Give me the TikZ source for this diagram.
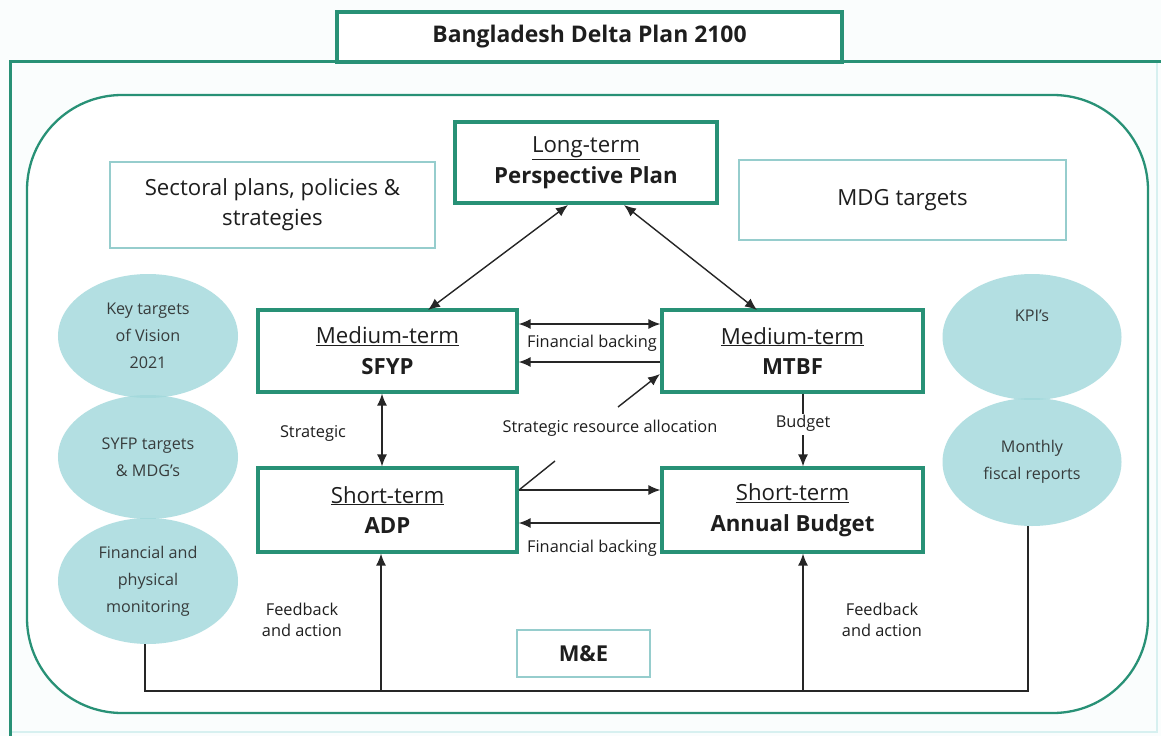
\documentclass[tikz,border=0pt]{standalone}
\usepackage{fontspec}
\setmainfont{Open Sans}
\usetikzlibrary{arrows.meta,shapes.geometric}
\definecolor{frame}{RGB}{40,145,118}
\definecolor{thinbd}{RGB}{150,205,205}
\definecolor{ellfill}{RGB}{161,216,219}
\definecolor{txt}{RGB}{30,30,30}
\definecolor{soft}{RGB}{55,60,60}
\definecolor{bgc}{RGB}{250,253,253}
\definecolor{faint}{RGB}{215,240,240}
\begin{document}
\begin{tikzpicture}[x=1bp,y=-1bp,
  bigbox/.style={draw=frame, line width=3.2bp, fill=white, align=center, text=txt, inner sep=0pt,
    font=\fontsize{22.3}{31}\selectfont},
  thinbox/.style={draw=thinbd, line width=1.3bp, fill=white, align=center, text=txt, inner sep=0pt,
    font=\fontsize{22.3}{30}\selectfont},
  oval/.style={ellipse, fill=ellfill, fill opacity=0.8, text opacity=1, align=center, text=soft,
    inner sep=0pt, minimum width=180bp, font=\fontsize{16.2}{27}\selectfont},
  ovaltext/.style={text=soft, inner sep=0pt, font=\fontsize{16.2}{27}\selectfont},
  arr/.style={draw=black!85, line width=1.4bp, -{Latex[length=12bp,width=10bp]}},
  darr/.style={draw=black!85, line width=1.4bp, {Latex[length=12bp,width=10bp]}-{Latex[length=12bp,width=10bp]}},
  plain/.style={draw=black!85, line width=1.4bp},
  lbl/.style={text=txt, font=\fontsize{16.4}{21}\selectfont, align=center, inner sep=1bp}
]
% canvas
\fill[bgc] (0,0) rectangle (1161,736);
\useasboundingbox (0,0) rectangle (1161,736);

% outer frame and title tab
\draw[faint, line width=1.5bp] (1157,62) -- (1157,732) -- (10,732);
\draw[frame, line width=3bp] (1161,62) -- (10,62) -- (10,736);
\node[bigbox, minimum width=505bp, minimum height=50bp, font=\fontsize{23}{26}\bfseries] (title) at (589.5,37) {Bangladesh Delta Plan 2100};

% inner rounded frame
\draw[frame, line width=2.3bp, rounded corners=95bp, fill=white] (27,95) rectangle (1148,713);

% context boxes
\node[thinbox, minimum width=325bp, minimum height=86bp] (sect) at (272.5,205) {Sectoral plans, policies \&\\strategies};
\node[thinbox, minimum width=327bp, minimum height=80bp] (mdg) at (902.5,200) {MDG targets};
\node[thinbox, minimum width=133bp, minimum height=47bp, font=\fontsize{22}{24}\bfseries] (me) at (583.5,653.5) {M\&E};

% planning boxes
\node[bigbox, minimum width=262bp, minimum height=81bp] (pp) at (586,162.5) {\underline{Long-term}\\\textbf{Perspective Plan}};
\node[bigbox, minimum width=259bp, minimum height=82bp] (sfyp) at (387.5,351) {\underline{Medium-term}\\\textbf{SFYP}};
\node[bigbox, minimum width=261bp, minimum height=82bp] (mtbf) at (792.5,351) {\underline{Medium-term}\\\textbf{MTBF}};
\node[bigbox, minimum width=259bp, minimum height=84bp] (adp) at (387.5,510) {\underline{Short-term}\\\textbf{ADP}};
\node[bigbox, minimum width=261bp, minimum height=84bp] (ab) at (792.5,510) {\underline{Short-term}\\\textbf{Annual Budget}};

% indicator ovals
\node[oval, minimum height=124bp] (e1) at (148,336) {Key targets\\of Vision\\2021};
\node[oval, minimum height=124bp] (e2) at (148,457) {SYFP targets\\\& MDG's};
\node[oval, minimum height=126bp] (e3) at (148,581) {Financial and\\physical\\monitoring};
\node[oval, minimum height=126bp, minimum width=179bp] (k1) at (1032,337) {};
\node[ovaltext] (k1t) at (1032,316) {KPI's};
\node[oval, minimum height=128bp, minimum width=179bp] (k2) at (1032,462) {Monthly\\fiscal reports};

% labels
\node[lbl] (fb1) at (592,343) {Financial backing};
\node[lbl] (fb2) at (592,548) {Financial backing};
\node[lbl] (strat) at (313,433) {Strategic};
\node[lbl] (sra) at (610,428) {Strategic resource allocation};
\node[lbl] (bud) at (803,423) {Budget};
\node[lbl] (fa1) at (302,620) {Feedback\\and action};
\node[lbl] (fa2) at (882,620) {Feedback\\and action};

% links between plans
\coordinate (ppl) at (568,205);
\coordinate (ppr) at (624,205);
\coordinate (sfn) at (428,310);
\coordinate (mtn) at (757,310);
\draw[darr] (ppl) -- (sfn);
\draw[darr] (ppr) -- (mtn);
\draw[darr] (sfyp.east |- 0,324) -- (mtbf.west |- 0,324);
\draw[arr] (mtbf.west |- 0,362) -- (sfyp.east |- 0,362);
\draw[darr] (sfyp.south -| 382,0) -- (adp.north -| 382,0);
\draw[arr] (adp.east |- 0,490) -- (ab.west |- 0,490);
\draw[arr] (ab.west |- 0,523) -- (adp.east |- 0,523);
\draw[plain] (mtbf.south -| bud) -- (bud.north);
\draw[arr] (bud.south) ++(0,3) -- (ab.north -| bud);

% strategic resource allocation link
\coordinate (s1) at (519,490);
\coordinate (s2) at (555,461);
\coordinate (s3) at (618,407);
\coordinate (s4) at (660,374);
\draw[plain] (s1) -- (s2);
\draw[arr] (s3) -- (s4);

% monitoring and evaluation loop
\coordinate (lb) at (145,691);
\coordinate (rb) at (1028,691);
\coordinate (fa) at (381,691);
\coordinate (fb) at (803,691);
\draw[plain] (e3.south -| lb) -- (lb) -- (rb) -- (k2.south -| rb);
\draw[arr] (fa) -- (adp.south -| fa);
\draw[arr] (fb) -- (ab.south -| fb);
\end{tikzpicture}
\end{document}
